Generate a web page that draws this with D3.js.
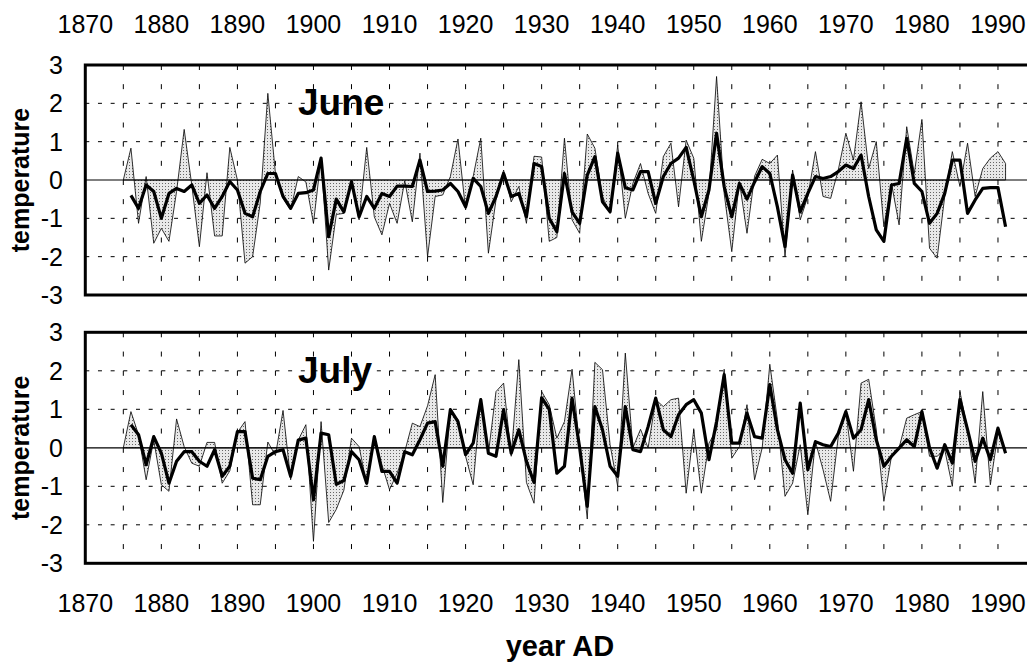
<!DOCTYPE html>
<html>
<head>
<meta charset="utf-8">
<script src="https://cdn.jsdelivr.net/npm/d3@7"></script>
<style>
  body { margin: 0; background: #fff; }
  svg { display: block; }
  text { font-family: "Liberation Sans", Arial, sans-serif; fill: #000; }
</style>
</head>
<body>
<svg width="1027" height="663"></svg>
<script>
// years of record, 1875 - 1991
var years = d3.range(1875, 1992);

// June: observed (shaded) and reconstructed (thick line, starts 1876)
var juneObs = [0.0, 0.83, -1.13, 0.09, -1.65, -1.26, -1.6, -0.3, 1.32, -0.13,
  -1.74, 0.19, -1.46, -1.46, 0.85, 0.0, -2.17, -2.0, -0.6, 2.26,
  0.17, -0.48, -0.78, 0.09, -0.05, -1.13, 0.57, -2.35, -0.9, -0.87,
  -0.07, -1.04, 0.85, -0.96, -1.43, -0.61, -1.13, -0.02, -1.09, 0.7,
  -2.0, -0.43, -0.39, 0.09, 1.07, -0.78, 0.09, 1.09, -1.91, -0.52,
  0.26, -0.57, -0.17, -1.13, 0.62, 0.6, -1.6, -1.5, 1.09, -1.04,
  -1.39, 1.2, 0.83, -0.43, -0.87, 0.91, -1.0, -0.09, 0.43, -0.35,
  -0.87, 0.61, 0.96, -0.7, 1.04, 0.57, -1.6, -0.35, 2.7, -0.35,
  -1.87, -0.04, -1.39, 0.1, 0.54, 0.43, 0.65, -2.0, 0.26, -1.04,
  -0.43, 0.74, -0.43, -0.48, 0.26, 1.22, 0.52, 2.04, 0.3, 1.0,
  -1.22, -0.09, -1.17, 1.39, 0.17, 1.58, -1.78, -2.04, -0.43, 0.74,
  -0.17, 0.96, -0.43, 0.3, 0.57, 0.74, 0.43];
var juneRec = [null, -0.4, -0.74, -0.13, -0.3, -1.0, -0.35, -0.22, -0.3, -0.13,
  -0.61, -0.39, -0.74, -0.43, -0.04, -0.26, -0.87, -0.96, -0.3, 0.17,
  0.17, -0.43, -0.74, -0.35, -0.33, -0.26, 0.57, -1.48, -0.5, -0.83,
  -0.04, -0.96, -0.43, -0.74, -0.35, -0.43, -0.16, -0.16, -0.17, 0.52,
  -0.3, -0.29, -0.26, -0.09, -0.3, -0.7, 0.04, -0.17, -0.87, -0.43,
  0.17, -0.43, -0.35, -0.96, 0.43, 0.35, -1.0, -1.35, 0.17, -0.83,
  -1.13, 0.13, 0.61, -0.57, -0.83, 0.7, -0.2, -0.26, 0.22, 0.22,
  -0.61, 0.09, 0.43, 0.57, 0.85, 0.0, -0.96, -0.26, 1.22, -0.17,
  -0.96, -0.09, -0.5, -0.05, 0.35, 0.17, -0.7, -1.74, 0.13, -0.83,
  -0.35, 0.09, 0.04, 0.09, 0.22, 0.39, 0.3, 0.65, -0.43, -1.3,
  -1.6, -0.13, -0.09, 1.09, -0.09, -0.3, -1.13, -0.87, -0.35, 0.52,
  0.52, -0.87, -0.52, -0.22, -0.2, -0.2, -1.22];

// July: observed (shaded) and reconstructed (thick line, starts 1876)
var julyObs = [0.0, 0.94, 0.34, -0.83, 0.2, -0.96, -1.13, 0.75, 0.03, -0.4,
  -0.48, 0.14, 0.14, -0.92, -0.6, 0.4, 0.68, -1.48, -1.48, 0.15,
  -0.2, 0.97, -0.83, 0.2, 0.6, -2.43, 0.68, -1.94, -1.6, -1.1,
  0.25, 0.03, -0.96, 0.29, -0.44, -1.09, -0.66, -0.1, 0.64, 0.55,
  1.09, 1.9, -1.42, 0.99, 0.73, -0.22, -0.96, 1.29, -0.14, 1.46,
  1.68, -0.22, 2.29, -0.9, -1.44, 1.46, 1.12, 0.25, 0.68, 2.04,
  0.0, -1.85, 2.22, 2.03, 0.08, -1.0, 2.46, 0.0, 0.48, 0.0,
  1.25, 1.07, 1.25, 1.29, -1.18, 0.47, -1.18, 0.12, 0.47, 2.04,
  -0.27, 0.03, 1.12, -0.83, 0.0, 2.17, 0.73, -1.26, -0.92, 0.08,
  -1.74, 0.16, -0.57, -1.39, 0.29, 0.94, -0.61, 1.68, 1.78, 0.47,
  -1.39, -0.22, 0.0, 0.77, 0.86, 0.94, -0.22, -0.22, -0.05, -1.0,
  1.46, 0.47, -0.92, 1.46, -0.96, 0.38, -0.05];
var julyRec = [null, 0.6, 0.34, -0.44, 0.29, -0.14, -0.92, -0.35, -0.1, -0.1,
  -0.35, -0.48, -0.05, -0.74, -0.48, 0.42, 0.42, -0.79, -0.83, -0.22,
  -0.1, -0.05, -0.74, 0.2, 0.25, -1.35, 0.38, 0.34, -0.95, -0.85,
  -0.1, -0.31, -0.92, 0.29, -0.61, -0.61, -0.92, -0.1, -0.18, 0.21,
  0.64, 0.68, -0.48, 0.99, 0.68, -0.18, 0.12, 1.25, -0.14, -0.22,
  0.99, -0.14, 0.47, -0.35, -0.9, 1.3, 1.0, -0.66, -0.48, 1.29,
  0.0, -1.52, 1.07, 0.47, -0.48, -0.74, 1.07, -0.05, -0.1, 0.55,
  1.29, 0.47, 0.29, 0.86, 1.12, 1.25, 0.9, -0.31, 0.68, 1.9,
  0.12, 0.12, 0.9, 0.29, 0.25, 1.64, 0.47, -0.31, -0.66, 1.16,
  -0.57, 0.16, 0.08, 0.03, 0.38, 0.94, 0.25, 0.47, 1.25, 0.21,
  -0.48, -0.22, -0.01, 0.21, 0.03, 0.94, 0.0, -0.53, 0.08, -0.4,
  1.25, 0.47, -0.35, 0.25, -0.31, 0.51, -0.14];

// axis ticks
var xTicks = d3.range(1870, 2000, 10);
var xGrid = d3.range(1875, 1995, 5);
var yTicks = [3, 2, 1, 0, -1, -2, -3];
var yGrid = [2, 1, -1, -2];

var svg = d3.select("svg");
var left = 85.3, right = 1036;

var xScale = d3.scaleLinear().domain([1870, 1995]).range([left, right]);

// stippled fill for the observed series
var pat = svg.append("defs").append("pattern")
  .attr("id", "stipple")
  .attr("patternUnits", "userSpaceOnUse")
  .attr("width", 3).attr("height", 3);
pat.append("rect").attr("width", 3).attr("height", 3).attr("fill", "#e8e8e8");
pat.append("rect").attr("width", 1).attr("height", 1).attr("fill", "#666");

function drawPanel(top, bottom, obs, rec, title, titleY) {
  var yScale = d3.scaleLinear().domain([-3, 3]).range([bottom, top]);
  var g = svg.append("g");

  // dashed grid
  g.selectAll(".vgrid").data(xGrid).enter().append("line")
    .attr("x1", function (d) { return xScale(d); })
    .attr("x2", function (d) { return xScale(d); })
    .attr("y1", top).attr("y2", bottom)
    .attr("stroke", "#000").attr("stroke-width", 1)
    .attr("stroke-dasharray", "5," + ((bottom - top) / 12 - 5));
  g.selectAll(".hgrid").data(yGrid).enter().append("line")
    .attr("x1", left).attr("x2", right)
    .attr("y1", function (d) { return yScale(d); })
    .attr("y2", function (d) { return yScale(d); })
    .attr("stroke", "#000").attr("stroke-width", 1)
    .attr("stroke-dasharray", "4," + ((xScale(1875) - left) / 3 - 4));

  // observed: shaded area against zero with thin outline
  var area = d3.area()
    .x(function (d, i) { return xScale(years[i]); })
    .y0(yScale(0))
    .y1(function (d) { return yScale(d); });
  g.append("path").datum(obs)
    .attr("d", area)
    .attr("fill", "url(#stipple)")
    .attr("stroke", "#000").attr("stroke-width", 0.8)
    .attr("stroke-linejoin", "miter");

  // zero line
  g.append("line")
    .attr("x1", left).attr("x2", right)
    .attr("y1", yScale(0)).attr("y2", yScale(0))
    .attr("stroke", "#000").attr("stroke-width", 1.2);

  // reconstruction: thick line
  var line = d3.line()
    .defined(function (d) { return d != null; })
    .x(function (d, i) { return xScale(years[i]); })
    .y(function (d) { return yScale(d); });
  g.append("path").datum(rec)
    .attr("d", line)
    .attr("fill", "none")
    .attr("stroke", "#000").attr("stroke-width", 3.2)
    .attr("stroke-linejoin", "round");

  // frame
  g.append("rect")
    .attr("x", left).attr("y", top)
    .attr("width", right - left + 20).attr("height", bottom - top)
    .attr("fill", "none").attr("stroke", "#000").attr("stroke-width", 3);

  // y labels
  g.selectAll(".ylab").data(yTicks).enter().append("text")
    .attr("x", 63)
    .attr("y", function (d) { return yScale(d); })
    .attr("dy", "0.36em")
    .attr("text-anchor", "end")
    .style("font-size", "25px")
    .text(function (d) { return d; });

  g.append("text")
    .attr("transform", "translate(29," + ((top + bottom) / 2) + ") rotate(-90)")
    .attr("text-anchor", "middle")
    .style("font-size", "25px").style("font-weight", "bold")
    .text("temperature");

  g.append("text")
    .attr("x", 298).attr("y", titleY)
    .style("font-size", "37px").style("font-weight", "bold")
    .text(title);
}

drawPanel(65, 295, juneObs, juneRec, "June", 115);
drawPanel(332.3, 563.3, julyObs, julyRec, "July", 383);

// x labels, top and bottom
[33, 612].forEach(function (yy) {
  svg.append("g").selectAll("text").data(xTicks).enter().append("text")
    .attr("x", function (d) { return xScale(d); })
    .attr("y", yy)
    .attr("text-anchor", "middle")
    .style("font-size", "25px")
    .text(function (d) { return d; });
});

svg.append("text")
  .attr("x", 560).attr("y", 656)
  .attr("text-anchor", "middle")
  .style("font-size", "29px").style("font-weight", "bold")
  .text("year AD");
</script>
</body>
</html>
